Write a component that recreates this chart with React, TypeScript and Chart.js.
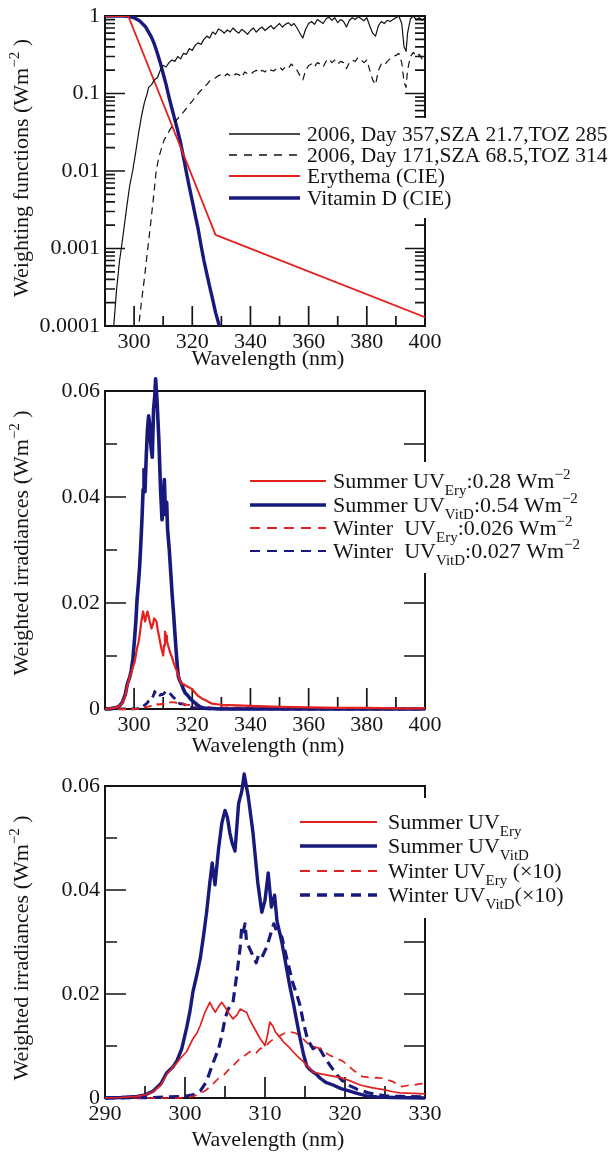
import React, { useEffect, useRef } from 'react';
import { Chart, registerables } from 'chart.js';
Chart.register(...registerables);

type Pt = [number, number];
type Part = { t: string; s?: 'sub' | 'sup' };

const FONT = '"Liberation Serif", "Times New Roman", serif';
const RED = '#e3211f';
const NAVY = '#17197c';
const INK = '#151515';

// ---------- Panel 1: weighting functions (log scale) ----------
const p1XTicks = [300, 320, 340, 360, 380, 400];
const p1XMinor = [310, 330, 350, 370, 390];
const p1YTicks = [0.0001, 0.001, 0.01, 0.1, 1];
const p1YLabels = ['0.0001', '0.001', '0.01', '0.1', '1'];

const erythemaCIE: Pt[] = [[290, 1], [298, 1], [328, 0.0015], [400, 0.00013]];

const vitaminDCIE: Pt[] = [
  [290, 1], [296, 1], [298, 0.99], [300, 0.95], [302, 0.86], [304, 0.72], [306, 0.53], [307, 0.43],
  [308, 0.33], [309, 0.25], [310, 0.18], [311, 0.13], [312, 0.09], [313, 0.064], [314, 0.046],
  [315, 0.033], [316, 0.023], [317, 0.015], [318, 0.0095], [319, 0.0062], [320, 0.0041],
  [321, 0.0027], [322, 0.0018], [323, 0.0011], [324, 0.0007], [325, 0.00047], [326, 0.00032],
  [327, 0.00022], [328, 0.00015], [329.3, 0.0001], [330, 0.00008],
];

const day357: Pt[] = [
  [292.5, 0.00005], [293, 0.0001], [294, 0.0003], [295, 0.0007], [295.6, 0.001], [296.5, 0.0018],
  [297.5, 0.0035], [298.5, 0.0065], [299.5, 0.01], [300.5, 0.017], [301.5, 0.03], [302.5, 0.05],
  [303.5, 0.075], [304.5, 0.1], [305, 0.12], [306, 0.13], [307, 0.15], [308, 0.16], [309, 0.2],
  [310, 0.23], [311, 0.22], [312, 0.25], [313, 0.27], [314, 0.26], [315, 0.3], [316, 0.28],
  [317, 0.33], [318, 0.32], [319, 0.38], [320, 0.36], [321, 0.42], [322, 0.45], [323, 0.43],
  [324, 0.5], [325, 0.55], [326, 0.52], [327, 0.62], [328, 0.58], [329, 0.68], [330, 0.65],
  [331, 0.6], [332, 0.66], [333, 0.62], [334, 0.7], [335, 0.64], [336, 0.6], [337, 0.67],
  [338, 0.63], [339, 0.58], [340, 0.65], [341, 0.7], [342, 0.62], [343, 0.68], [344, 0.72],
  [345, 0.65], [346, 0.7], [347, 0.75], [348, 0.68], [349, 0.74], [350, 0.8], [351, 0.72],
  [352, 0.78], [353, 0.82], [354, 0.75], [355, 0.8], [356, 0.7], [357, 0.6], [358, 0.52],
  [359, 0.68], [360, 0.8], [361, 0.85], [362, 0.78], [363, 0.9], [364, 0.85], [365, 0.8],
  [366, 0.92], [367, 0.97], [368, 0.88], [369, 0.95], [370, 0.82], [371, 0.9], [372, 0.85],
  [373, 0.72], [374, 0.88], [375, 0.95], [376, 0.9], [377, 0.98], [378, 0.93], [379, 0.87],
  [380, 0.95], [381, 0.75], [382, 0.6], [383, 0.55], [384, 0.75], [385, 0.85], [386, 0.8],
  [387, 0.88], [388, 0.85], [389, 0.9], [390, 0.95], [391, 1], [392, 0.8], [392.8, 0.4],
  [393.5, 0.35], [394, 0.6], [395, 0.92], [396, 1], [397, 0.9], [398, 0.95], [399, 0.88], [400, 0.95],
];

const day171: Pt[] = [
  [301.3, 0.00008], [301.6, 0.0001], [302.5, 0.0002], [303.5, 0.0004], [304.7, 0.001],
  [305.5, 0.0018], [306.5, 0.004], [307.6, 0.01], [308.5, 0.015], [309.5, 0.02], [310.3, 0.025],
  [311.5, 0.03], [312.5, 0.035], [313.5, 0.04], [314.5, 0.045], [315.5, 0.05], [317, 0.058],
  [318.5, 0.068], [320, 0.08], [322, 0.1], [324, 0.12], [325, 0.13], [326, 0.145], [327, 0.15],
  [328, 0.16], [329, 0.17], [330, 0.175], [331, 0.165], [332, 0.18], [333, 0.17], [334, 0.165],
  [335, 0.18], [336, 0.175], [337, 0.16], [338, 0.19], [339, 0.18], [340, 0.175], [341, 0.19],
  [342, 0.2], [343, 0.185], [344, 0.2], [345, 0.19], [346, 0.21], [347, 0.2], [348, 0.195],
  [349, 0.21], [350, 0.22], [351, 0.2], [352, 0.22], [353, 0.21], [354, 0.24], [355, 0.22],
  [356, 0.2], [357, 0.17], [358, 0.15], [359, 0.2], [360, 0.23], [361, 0.24], [362, 0.22],
  [363, 0.25], [364, 0.24], [365, 0.22], [366, 0.26], [367, 0.28], [368, 0.25], [369, 0.27],
  [370, 0.24], [371, 0.26], [372, 0.25], [373, 0.21], [374, 0.25], [375, 0.27], [376, 0.26],
  [377, 0.29], [378, 0.27], [379, 0.25], [380, 0.27], [381, 0.2], [382, 0.15], [383, 0.13],
  [384, 0.2], [385, 0.24], [386, 0.23], [387, 0.26], [388, 0.28], [389, 0.3], [390, 0.31],
  [391, 0.33], [392, 0.25], [392.8, 0.14], [393.5, 0.12], [394, 0.2], [395, 0.3], [396, 0.34],
  [397, 0.3], [398, 0.32], [399, 0.28], [400, 0.3],
];

// ---------- Panels 2 & 3: weighted irradiances ----------
const p2XTicks = [300, 320, 340, 360, 380, 400];
const p2XMinor = [310, 330, 350, 370, 390];
const p3XTicks = [290, 300, 310, 320, 330];
const p3XMinor = [295, 305, 315, 325];
const irrYTicks = [0, 0.02, 0.04, 0.06];
const irrYLabels = ['0', '0.02', '0.04', '0.06'];
const irrYMinor = [0.01, 0.03, 0.05];

const summerVitD: Pt[] = [
  [290, 0], [292, 0.0001], [294, 0.0003], [295, 0.0006], [296, 0.0013], [297, 0.0028],
  [297.7, 0.0048], [298.5, 0.006], [299, 0.0072], [299.6, 0.0095], [300.2, 0.0135],
  [300.6, 0.0165], [301, 0.0205], [301.5, 0.0238], [301.9, 0.0268], [302.3, 0.031],
  [302.7, 0.0357], [303.1, 0.0414], [303.4, 0.0452], [303.75, 0.041], [304.2, 0.048],
  [304.6, 0.0528], [305, 0.0553], [305.3, 0.054], [305.6, 0.051], [305.9, 0.049],
  [306.25, 0.0475], [306.7, 0.0566], [307.1, 0.059], [307.4, 0.0623], [307.9, 0.058],
  [308.5, 0.051], [309.1, 0.0414], [309.6, 0.0357], [310, 0.038], [310.4, 0.0433],
  [310.8, 0.0367], [311.2, 0.039], [311.5, 0.034], [312.1, 0.03], [312.7, 0.0249],
  [313.1, 0.0215], [313.5, 0.0186], [314, 0.0145], [314.4, 0.0114], [314.8, 0.0085],
  [315.2, 0.0062], [315.6, 0.0055], [316, 0.005], [316.4, 0.0046], [316.9, 0.0038],
  [317.6, 0.003], [318.5, 0.0025], [319.5, 0.0018], [320.6, 0.0013], [321.5, 0.0009],
  [322.7, 0.0004], [324, 0.0002], [326, 0.0001], [330, 0], [400, 0],
];

const summerEry: Pt[] = [
  [290, 0], [292, 0.0001], [294, 0.0003], [295, 0.0006], [296, 0.0012], [297, 0.0025],
  [297.7, 0.0045], [298.5, 0.006], [299, 0.0068], [299.4, 0.0076], [300.2, 0.0089],
  [301, 0.0114], [301.5, 0.0125], [301.9, 0.0139], [302.5, 0.0165], [303.1, 0.0184],
  [303.5, 0.0172], [303.8, 0.0165], [304.2, 0.0176], [304.6, 0.0184], [305, 0.0175],
  [305.4, 0.0165], [306, 0.0152], [306.5, 0.016], [306.9, 0.0171], [307.3, 0.0168],
  [307.7, 0.0165], [308.1, 0.015], [308.5, 0.0139], [309, 0.0125], [309.4, 0.0114],
  [310, 0.0101], [310.3, 0.012], [310.6, 0.0146], [311, 0.0138], [311.3, 0.0127],
  [311.8, 0.0118], [312.3, 0.0108], [313, 0.0098], [313.5, 0.0089], [314.2, 0.0078],
  [314.8, 0.007], [315.4, 0.006], [316, 0.005], [316.8, 0.0047], [317.8, 0.0044],
  [318.8, 0.0041], [319.8, 0.0038], [320.8, 0.0032], [321.9, 0.0025], [323.3, 0.002],
  [324.8, 0.0016], [326, 0.0012], [326.9, 0.001], [328.5, 0.0009], [330, 0.0008],
  [335, 0.0007], [340, 0.0006], [350, 0.0004], [360, 0.0003], [370, 0.0002], [380, 0.0002],
  [390, 0.0001], [400, 0.0001],
];

// winter values as plotted in panel 3 (x10)
const winterVitDx10: Pt[] = [
  [290, 0], [296, 0.0001], [298, 0.0002], [300, 0.0003], [301, 0.0006], [301.9, 0.0013],
  [302.7, 0.0032], [303.4, 0.0063], [304.2, 0.0095], [304.6, 0.012], [305, 0.0152],
  [305.4, 0.0171], [306, 0.0184], [306.5, 0.024], [306.9, 0.029], [307.1, 0.033],
  [307.3, 0.032], [307.5, 0.0335], [307.7, 0.03], [308.3, 0.028], [308.9, 0.026],
  [309.2, 0.0275], [309.6, 0.027], [310.2, 0.029], [310.5, 0.0305], [310.8, 0.032],
  [311.1, 0.0335], [311.5, 0.032], [312.1, 0.031], [312.7, 0.027], [313.1, 0.0245],
  [313.5, 0.022], [314, 0.0198], [314.4, 0.0177], [314.8, 0.0145], [315.2, 0.012],
  [315.6, 0.0105], [316, 0.0095], [316.6, 0.0101], [317.2, 0.0085], [317.8, 0.007],
  [318.4, 0.0057], [319, 0.0044], [319.7, 0.0033], [320.4, 0.0025], [321.5, 0.0017],
  [322.9, 0.001], [325, 0.0004], [327, 0.0003], [330, 0.0002], [340, 0.0001], [360, 0], [400, 0],
];

const winterEryx10: Pt[] = [
  [290, 0], [299, 0], [300, 0.0001], [301, 0.0003], [302, 0.0009], [302.7, 0.0016],
  [303.5, 0.0027], [304.2, 0.0038], [304.9, 0.0045], [305.6, 0.0057], [306.2, 0.0065],
  [306.9, 0.0076], [307.5, 0.0082], [308.1, 0.0089], [308.8, 0.0085], [309.4, 0.0095],
  [310, 0.0098], [310.6, 0.0108], [311.2, 0.0115], [311.9, 0.012], [312.5, 0.0125],
  [313.1, 0.0127], [313.8, 0.0125], [314.4, 0.012], [315, 0.011], [315.6, 0.0101],
  [316.3, 0.0098], [316.9, 0.0095], [317.5, 0.0088], [318.1, 0.0082], [319, 0.0076],
  [319.8, 0.007], [320.4, 0.0062], [321, 0.0054], [321.6, 0.0047], [322.2, 0.0041],
  [322.8, 0.004], [323.4, 0.0038], [324, 0.0039], [324.6, 0.0038], [325.3, 0.0035],
  [325.9, 0.0032], [326.5, 0.0027], [327.1, 0.0022], [327.8, 0.0024], [328.6, 0.0025],
  [329.3, 0.0027], [330, 0.0028], [335, 0.0025], [340, 0.002], [350, 0.0015], [360, 0.0012],
  [370, 0.001], [380, 0.0008], [390, 0.0005], [400, 0.0003],
];

// ---------- texts ----------
const xTitle = 'Wavelength (nm)';
const p1YTitle: Part[] = [{ t: 'Weighting functions (Wm' }, { t: '−2', s: 'sup' }, { t: ' )' }];
const irrYTitle: Part[] = [{ t: 'Weighted irradiances (Wm' }, { t: '−2', s: 'sup' }, { t: ' )' }];
const p1Legend: Part[][] = [
  [{ t: '2006, Day 357,SZA 21.7,TOZ 285' }],
  [{ t: '2006, Day 171,SZA 68.5,TOZ 314' }],
  [{ t: 'Erythema (CIE)' }],
  [{ t: 'Vitamin D (CIE)' }],
];
const p2Legend: Part[][] = [
  [{ t: 'Summer UV' }, { t: 'Ery', s: 'sub' }, { t: ':0.28 Wm' }, { t: '−2', s: 'sup' }],
  [{ t: 'Summer UV' }, { t: 'VitD', s: 'sub' }, { t: ':0.54 Wm' }, { t: '−2', s: 'sup' }],
  [{ t: 'Winter  UV' }, { t: 'Ery', s: 'sub' }, { t: ':0.026 Wm' }, { t: '−2', s: 'sup' }],
  [{ t: 'Winter  UV' }, { t: 'VitD', s: 'sub' }, { t: ':0.027 Wm' }, { t: '−2', s: 'sup' }],
];
const p3Legend: Part[][] = [
  [{ t: 'Summer UV' }, { t: 'Ery', s: 'sub' }],
  [{ t: 'Summer UV' }, { t: 'VitD', s: 'sub' }],
  [{ t: 'Winter UV' }, { t: 'Ery', s: 'sub' }, { t: ' (×10)' }],
  [{ t: 'Winter UV' }, { t: 'VitD', s: 'sub' }, { t: '(×10)' }],
];

// ---------- helpers ----------
const FS = 22;
function partFont(p: Part, size: number) {
  return `${p.s ? Math.round(size * 0.68) : size}px ${FONT}`;
}
function measureRich(ctx: CanvasRenderingContext2D, parts: Part[], size: number) {
  let w = 0;
  for (const p of parts) { ctx.font = partFont(p, size); w += ctx.measureText(p.t).width; }
  return w;
}
function drawRich(ctx: CanvasRenderingContext2D, parts: Part[], x: number, baseY: number, size: number) {
  let cx = x;
  ctx.textBaseline = 'alphabetic';
  ctx.textAlign = 'left';
  for (const p of parts) {
    ctx.font = partFont(p, size);
    const dy = p.s === 'sub' ? size * 0.3 : p.s === 'sup' ? -size * 0.42 : 0;
    ctx.fillText(p.t, cx, baseY + dy);
    cx += ctx.measureText(p.t).width;
  }
}

type Row = { y: number; color: string; width: number; dash: number[]; parts: Part[] };
type Decor = {
  xMajor: number[]; xMinor: number[]; yMajor: number[]; yMinor: number[];
  majorLen: number; minorLen: number; rightMinorLen: number;
  yTitle: Part[]; yTitleY: number; xTitleY: number;
  box: [number, number, number, number]; lx0: number; lx1: number; tx: number; rows: Row[];
  legendSize: number;
};

function makeDecor(d: Decor) {
  return {
    id: 'decor',
    beforeDatasetsDraw(chart: any) {
      const { ctx, chartArea: a, scales } = chart;
      const xs = scales.x, ys = scales.y;
      ctx.save();
      ctx.strokeStyle = INK;
      ctx.lineWidth = 2;
      ctx.strokeRect(a.left, a.top, a.right - a.left, a.bottom - a.top);
      ctx.lineWidth = 1.7;
      ctx.beginPath();
      for (const v of d.xMajor) {
        const px = xs.getPixelForValue(v);
        ctx.moveTo(px, a.bottom); ctx.lineTo(px, a.bottom - d.majorLen);
      }
      for (const v of d.xMinor) {
        const px = xs.getPixelForValue(v);
        ctx.moveTo(px, a.bottom); ctx.lineTo(px, a.bottom - d.minorLen);
      }
      for (const v of d.yMajor) {
        const py = ys.getPixelForValue(v);
        ctx.moveTo(a.left, py); ctx.lineTo(a.left + d.majorLen, py);
        ctx.moveTo(a.right, py); ctx.lineTo(a.right - d.majorLen, py);
      }
      for (const v of d.yMinor) {
        const py = ys.getPixelForValue(v);
        ctx.moveTo(a.left, py); ctx.lineTo(a.left + d.minorLen, py);
        ctx.moveTo(a.right, py); ctx.lineTo(a.right - d.rightMinorLen, py);
      }
      ctx.stroke();
      ctx.fillStyle = INK;
      ctx.font = `${FS}px ${FONT}`;
      ctx.textAlign = 'center';
      ctx.textBaseline = 'middle';
      ctx.fillText(xTitle, (a.left + a.right) / 2 + 3, d.xTitleY);
      const w = measureRich(ctx, d.yTitle, FS);
      ctx.save();
      ctx.translate(21, d.yTitleY);
      ctx.rotate(-Math.PI / 2);
      drawRich(ctx, d.yTitle, -w / 2, 7, FS);
      ctx.restore();
      ctx.restore();
    },
    afterDatasetsDraw(chart: any) {
      const { ctx } = chart;
      ctx.save();
      ctx.fillStyle = '#ffffff';
      ctx.fillRect(d.box[0], d.box[1], d.box[2], d.box[3]);
      for (const r of d.rows) {
        ctx.strokeStyle = r.color;
        ctx.lineWidth = r.width;
        ctx.setLineDash(r.dash);
        ctx.beginPath();
        ctx.moveTo(d.lx0, r.y); ctx.lineTo(d.lx1, r.y);
        ctx.stroke();
        ctx.setLineDash([]);
        ctx.fillStyle = INK;
        drawRich(ctx, r.parts, d.tx, r.y + 7, d.legendSize);
      }
      ctx.restore();
    },
  };
}

const toXY = (a: Pt[], k = 1) => a.map(([x, y]) => ({ x, y: y * k }));

function line(data: Pt[], color: string, width: number, dash: number[] = [], k = 1, clip: any = undefined) {
  return {
    data: toXY(data, k), borderColor: color, borderWidth: width, borderDash: dash,
    pointRadius: 0, tension: 0, fill: false, borderJoinStyle: 'round', ...(clip ? { clip } : {}),
  };
}

function baseOptions(opts: {
  H: number; top: number; bottom: number; xMin: number; xMax: number; xTicks: number[];
  yType: string; yMin: number; yMax: number; yTicks: number[]; yLabels: string[];
}) {
  const tickFont = { family: FONT, size: FS, lineHeight: 1 };
  return {
    responsive: false,
    animation: false,
    events: [],
    layout: { padding: { top: opts.top, left: 0, right: 609 - 425, bottom: 0 } },
    plugins: { legend: { display: false }, tooltip: { enabled: false }, title: { display: false } },
    scales: {
      x: {
        type: 'linear', min: opts.xMin, max: opts.xMax,
        afterBuildTicks: (s: any) => { s.ticks = opts.xTicks.map((v) => ({ value: v })); },
        afterFit: (s: any) => { s.height = opts.H - opts.bottom; },
        grid: { display: false, drawTicks: false }, border: { display: false },
        ticks: { font: tickFont, color: INK, padding: 5, maxRotation: 0, autoSkip: false, callback: (v: any) => String(v) },
      },
      y: {
        type: opts.yType, min: opts.yMin, max: opts.yMax,
        afterBuildTicks: (s: any) => { s.ticks = opts.yTicks.map((v) => ({ value: v })); },
        afterFit: (s: any) => { s.width = 105; },
        grid: { display: false, drawTicks: false }, border: { display: false },
        ticks: { font: tickFont, color: INK, padding: 5, autoSkip: false, callback: (_v: any, i: number) => opts.yLabels[i] },
      },
    },
  };
}

const H1 = 375, H2 = 395, H3 = 385;

export default function App() {
  const r1 = useRef<HTMLCanvasElement>(null);
  const r2 = useRef<HTMLCanvasElement>(null);
  const r3 = useRef<HTMLCanvasElement>(null);

  useEffect(() => {
    document.body.style.margin = '0';
    const logMinor: number[] = [];
    for (const dec of [0.0001, 0.001, 0.01, 0.1]) for (let m = 2; m <= 9; m++) logMinor.push(dec * m);

    const c1 = new Chart(r1.current as HTMLCanvasElement, {
      type: 'line',
      data: {
        datasets: [
          line(day357, '#111111', 1.2),
          line(day171, '#111111', 1.2, [7, 5]),
          line(erythemaCIE, RED, 1.8),
          line(vitaminDCIE, NAVY, 3.4),
        ] as any,
      },
      options: baseOptions({ H: H1, top: 12, bottom: 326, xMin: 290, xMax: 400, xTicks: p1XTicks, yType: 'logarithmic', yMin: 0.0001, yMax: 1, yTicks: p1YTicks, yLabels: p1YLabels }) as any,
      plugins: [makeDecor({
        xMajor: p1XTicks, xMinor: p1XMinor, yMajor: p1YTicks, yMinor: logMinor,
        majorLen: 20, minorLen: 10, rightMinorLen: 10,
        yTitle: p1YTitle, yTitleY: 168, xTitleY: 359,
        box: [224, 118, 385, 100], lx0: 229, lx1: 300, tx: 307, legendSize: 21.5,
        rows: [
          { y: 134, color: '#111111', width: 1.3, dash: [], parts: p1Legend[0] },
          { y: 155, color: '#111111', width: 1.3, dash: [8, 7], parts: p1Legend[1] },
          { y: 176, color: RED, width: 1.8, dash: [], parts: p1Legend[2] },
          { y: 198, color: NAVY, width: 3.4, dash: [], parts: p1Legend[3] },
        ],
      })],
    });

    const clip = { left: 0, top: 20, right: 0, bottom: 2 };
    const c2 = new Chart(r2.current as HTMLCanvasElement, {
      type: 'line',
      data: {
        datasets: [
          line(summerEry, RED, 2.2, [], 1, clip),
          line(summerVitD, NAVY, 3.6, [], 1, clip),
          line(winterEryx10, RED, 2, [8, 5], 0.1, clip),
          line(winterVitDx10, NAVY, 2.8, [8, 5], 0.1, clip),
        ] as any,
      },
      options: baseOptions({ H: H2, top: 16, bottom: 334, xMin: 290, xMax: 400, xTicks: p2XTicks, yType: 'linear', yMin: 0, yMax: 0.06, yTicks: irrYTicks, yLabels: irrYLabels }) as any,
      plugins: [makeDecor({
        xMajor: p2XTicks, xMinor: p2XMinor, yMajor: irrYTicks.slice(1, 3), yMinor: irrYMinor,
        majorLen: 21, minorLen: 12, rightMinorLen: 21,
        yTitle: irrYTitle, yTitleY: 168, xTitleY: 371,
        box: [244, 87, 365, 111], lx0: 250, lx1: 326, tx: 333, legendSize: FS,
        rows: [
          { y: 106, color: RED, width: 1.8, dash: [], parts: p2Legend[0] },
          { y: 130, color: NAVY, width: 3.4, dash: [], parts: p2Legend[1] },
          { y: 153, color: RED, width: 1.8, dash: [10, 7], parts: p2Legend[2] },
          { y: 176, color: NAVY, width: 2.2, dash: [10, 7], parts: p2Legend[3] },
        ],
      })],
    });

    const c3 = new Chart(r3.current as HTMLCanvasElement, {
      type: 'line',
      data: {
        datasets: [
          line(summerEry, RED, 1.7, [], 1, clip),
          line(summerVitD, NAVY, 3.4, [], 1, clip),
          line(winterEryx10, RED, 1.7, [8, 6], 1, clip),
          line(winterVitDx10, NAVY, 3.2, [10, 6], 1, clip),
        ] as any,
      },
      options: baseOptions({ H: H3, top: 12, bottom: 328, xMin: 290, xMax: 330, xTicks: p3XTicks, yType: 'linear', yMin: 0, yMax: 0.06, yTicks: irrYTicks, yLabels: irrYLabels }) as any,
      plugins: [makeDecor({
        xMajor: p3XTicks, xMinor: p3XMinor, yMajor: irrYTicks.slice(1, 3), yMinor: irrYMinor,
        majorLen: 21, minorLen: 12, rightMinorLen: 21,
        yTitle: irrYTitle, yTitleY: 178, xTitleY: 370,
        box: [294, 28, 315, 120], lx0: 300, lx1: 377, tx: 388, legendSize: FS,
        rows: [
          { y: 52, color: RED, width: 1.8, dash: [], parts: p3Legend[0] },
          { y: 76, color: NAVY, width: 3.4, dash: [], parts: p3Legend[1] },
          { y: 101, color: RED, width: 1.8, dash: [10, 7], parts: p3Legend[2] },
          { y: 125, color: NAVY, width: 3.4, dash: [10, 7], parts: p3Legend[3] },
        ],
      })],
    });

    return () => { c1.destroy(); c2.destroy(); c3.destroy(); };
  }, []);

  const cs = (top: number): React.CSSProperties => ({ position: 'absolute', left: 0, top, display: 'block' });
  return (
    <div style={{ position: 'relative', width: 609, height: 1155, background: '#fff', overflow: 'hidden' }}>
      <canvas ref={r1} width={609} height={H1} style={cs(0)} />
      <canvas ref={r2} width={609} height={H2} style={cs(375)} />
      <canvas ref={r3} width={609} height={H3} style={cs(770)} />
    </div>
  );
}
